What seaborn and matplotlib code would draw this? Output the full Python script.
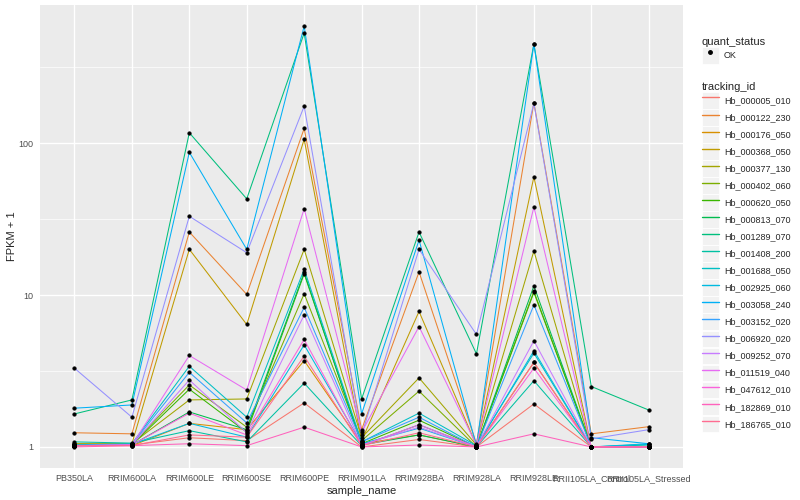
import numpy as np
import pandas as pd
import matplotlib
matplotlib.use("Agg")
import matplotlib.pyplot as plt
import seaborn as sns
from matplotlib.lines import Line2D
from matplotlib.patches import Patch
from matplotlib.ticker import FixedLocator, NullFormatter

samples = ["PB350LA", "RRIM600LA", "RRIM600LE", "RRIM600SE", "RRIM600PE",
           "RRIM901LA", "RRIM928BA", "RRIM928LA", "RRIM928LE",
           "RRII105LA_Control", "RRII105LA_Stressed"]

tracking_ids = ["Hb_000005_010", "Hb_000122_230", "Hb_000176_050", "Hb_000368_050",
                "Hb_000377_130", "Hb_000402_060", "Hb_000620_050", "Hb_000813_070",
                "Hb_001289_070", "Hb_001408_200", "Hb_001688_050", "Hb_002925_060",
                "Hb_003058_240", "Hb_003152_020", "Hb_006920_020", "Hb_009252_070",
                "Hb_011519_040", "Hb_047612_010", "Hb_182869_010", "Hb_186765_010"]

# FPKM + 1, one row per gene, columns follow `samples`
fpkm = [
    [1.02, 1.03, 1.15, 1.10, 1.95, 1.00, 1.12, 1.00, 1.92, 1.00, 1.00],
    [1.24, 1.22, 26.0, 10.1, 125.0, 1.30, 14.2, 1.05, 185.0, 1.22, 1.36],
    [1.05, 1.02, 1.43, 1.30, 3.70, 1.05, 1.20, 1.00, 3.60, 1.00, 1.00],
    [1.04, 1.05, 20.0, 6.40, 106.0, 1.10, 7.80, 1.02, 60.0, 1.00, 1.00],
    [1.05, 1.05, 2.04, 2.07, 20.0, 1.15, 2.85, 1.03, 19.5, 1.00, 1.00],
    [1.03, 1.04, 2.56, 1.35, 10.2, 1.10, 2.33, 1.00, 10.6, 1.00, 1.00],
    [1.02, 1.03, 2.40, 1.25, 13.8, 1.05, 1.50, 1.00, 10.4, 1.00, 1.00],
    [1.02, 1.03, 1.70, 1.30, 14.1, 1.03, 1.20, 1.00, 11.5, 1.00, 1.00],
    [1.65, 2.04, 117.0, 43.0, 530.0, 2.07, 26.0, 4.10, 450.0, 2.50, 1.75],
    [1.08, 1.06, 1.28, 1.08, 2.63, 1.02, 1.40, 1.00, 2.73, 1.00, 1.03],
    [1.03, 1.05, 3.40, 1.57, 14.8, 1.08, 1.67, 1.02, 4.15, 1.00, 1.04],
    [1.02, 1.04, 1.43, 1.16, 4.70, 1.05, 1.33, 1.00, 4.30, 1.00, 1.05],
    [1.80, 1.89, 87.0, 20.0, 590.0, 1.65, 23.0, 1.02, 450.0, 1.15, 1.05],
    [1.03, 1.04, 3.10, 1.44, 8.30, 1.08, 1.57, 1.00, 8.60, 1.00, 1.00],
    [3.30, 1.57, 33.0, 19.0, 175.0, 1.20, 20.0, 5.50, 183.0, 1.13, 1.30],
    [1.02, 1.03, 2.76, 1.24, 7.40, 1.03, 1.35, 1.00, 5.00, 1.00, 1.00],
    [1.02, 1.03, 4.00, 2.37, 37.0, 1.25, 6.20, 1.03, 38.0, 1.00, 1.00],
    [1.02, 1.03, 1.67, 1.20, 5.10, 1.02, 1.40, 1.00, 3.30, 1.00, 1.00],
    [1.00, 1.02, 1.05, 1.02, 1.35, 1.00, 1.03, 1.00, 1.22, 1.00, 1.00],
    [1.02, 1.02, 1.20, 1.16, 3.96, 1.02, 1.24, 1.00, 3.60, 1.00, 1.00],
]

palette = ["#F8766D", "#EA8331", "#D89000", "#C09B00", "#A3A500", "#7CAE00",
           "#39B600", "#00BB4E", "#00BF7D", "#00C1A3", "#00BFC4", "#00BAE0",
           "#00B0F6", "#35A2FF", "#9590FF", "#C77CFF", "#E76BF3", "#FA62DB",
           "#FF62BC", "#FF6C91"]

rows = []
for gene, vals in zip(tracking_ids, fpkm):
    for s, v in zip(samples, vals):
        rows.append(dict(tracking_id=gene, sample_name=s, fpkm1=v, quant_status="OK"))
df = pd.DataFrame(rows)
df["xpos"] = df["sample_name"].map({s: i for i, s in enumerate(samples)})

sns.set_style("darkgrid", {"axes.facecolor": "#EBEBEB", "grid.color": "white"})
plt.rcParams["font.family"] = ["Liberation Sans", "DejaVu Sans"]

fig, ax = plt.subplots(figsize=(8, 5), dpi=100)
fig.subplots_adjust(left=0.05, right=0.854, top=0.99, bottom=0.064)

sns.lineplot(data=df, x="xpos", y="fpkm1", hue="tracking_id", hue_order=tracking_ids,
             palette=palette, linewidth=0.75, legend=False, ax=ax, estimator=None,
             sort=False)
sns.scatterplot(data=df, x="xpos", y="fpkm1", color="black", s=7, marker="o",
                edgecolor="black", linewidth=0.3, legend=False, ax=ax, zorder=5)

ax.set_yscale("log")
lo, hi = np.log10(df["fpkm1"].min()), np.log10(df["fpkm1"].max())
pad = 0.05 * (hi - lo)
ax.set_ylim(10 ** (lo - pad), 10 ** (hi + pad))
ax.set_xlim(-0.6, len(samples) - 0.4)

ax.yaxis.set_major_locator(FixedLocator([1, 10, 100]))
ax.yaxis.set_minor_locator(FixedLocator([10 ** 0.5, 10 ** 1.5, 10 ** 2.5]))
ax.yaxis.set_minor_formatter(NullFormatter())
ax.set_yticklabels(["1", "10", "100"])
ax.set_xticks(range(len(samples)))
ax.set_xticklabels(samples)

ax.grid(which="major", color="white", linewidth=1.0)
ax.grid(which="minor", axis="y", color="white", linewidth=0.5)
ax.tick_params(axis="both", which="major", length=2.5, width=0.6, color="#333333",
               labelsize=6.5, labelcolor="#4D4D4D", pad=2)
ax.tick_params(axis="y", which="minor", length=0)
for sp in ax.spines.values():
    sp.set_visible(False)

ax.set_xlabel("sample_name", fontsize=8, labelpad=2)
ax.set_ylabel("FPKM + 1", fontsize=8, labelpad=1)

key_bg = dict(facecolor="#F2F2F2", edgecolor="white", linewidth=0.6)
leg_kw = dict(loc="upper left", frameon=False, fontsize=6.5, title_fontsize=8,
              alignment="left", borderpad=0, handlelength=1.9, handleheight=2.45,
              handletextpad=0.6, labelspacing=0.05)

q_handles = [(Patch(**key_bg), Line2D([], [], marker="o", color="black", linestyle="none",
                                     markersize=2.5))]
fig.legend(q_handles, ["OK"], title="quant_status",
           bbox_to_anchor=(697 / 800, 1 - 32 / 500), **leg_kw)

t_handles = [(Patch(**key_bg), Line2D([], [], color=c, linewidth=1.0)) for c in palette]
fig.legend(t_handles, tracking_ids, title="tracking_id",
           bbox_to_anchor=(697 / 800, 1 - 77 / 500), **leg_kw)

plt.savefig("out.png", dpi=100)
plt.close()
